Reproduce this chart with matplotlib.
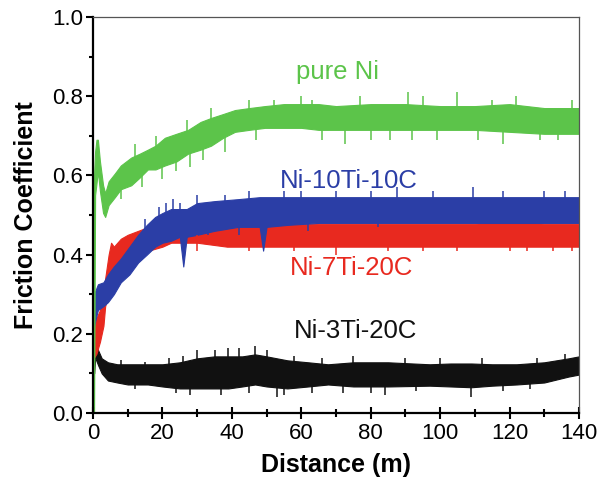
import matplotlib
matplotlib.use("Agg")
import matplotlib.pyplot as plt
from matplotlib.ticker import MultipleLocator, FormatStrFormatter

plt.rcParams["font.family"] = ["Liberation Sans", "DejaVu Sans"]

GREEN = "#5cc44a"
BLUE = "#2b3ea6"
RED = "#e8291f"
BLACK = "#111111"

# band envelopes (distance in m, friction coefficient)
green_d = [0.0, 0.3, 0.6, 1.0, 1.4, 2.0, 2.9, 3.5, 4.5, 6.3, 8, 11, 13.5, 15.8, 18, 20.7, 24,
           27.4, 31, 34, 37.5, 40.9, 45, 49.5, 55, 60, 65, 70, 80, 90, 100, 110, 120, 130, 140]
green_lo = [0.0, 0.0, 0.55, 0.58, 0.61, 0.56, 0.505, 0.495, 0.525, 0.545, 0.565, 0.575, 0.595,
            0.615, 0.615, 0.625, 0.635, 0.655, 0.665, 0.675, 0.695, 0.71, 0.715, 0.72, 0.72,
            0.72, 0.715, 0.715, 0.715, 0.715, 0.715, 0.715, 0.71, 0.705, 0.705]
green_hi = [0.0, 0.60, 0.66, 0.69, 0.69, 0.635, 0.575, 0.555, 0.585, 0.605, 0.625, 0.645, 0.655,
            0.665, 0.675, 0.695, 0.705, 0.715, 0.735, 0.745, 0.755, 0.765, 0.77, 0.775, 0.78,
            0.78, 0.78, 0.775, 0.78, 0.78, 0.775, 0.775, 0.78, 0.77, 0.77]

blue_d = [0.3, 1.4, 3, 4.3, 6, 8, 10.5, 13, 15.5, 17.9, 20, 22.5, 25, 26, 27, 30, 35, 41.8,
          48, 49, 50, 56, 65, 75, 85, 95, 105, 115, 125, 140]
blue_lo = [0.22, 0.26, 0.27, 0.28, 0.30, 0.33, 0.35, 0.38, 0.40, 0.42, 0.43, 0.435, 0.445,
           0.37, 0.445, 0.45, 0.46, 0.47, 0.47, 0.41, 0.47, 0.475, 0.48, 0.48, 0.48,
           0.48, 0.48, 0.48, 0.48, 0.48]
blue_hi = [0.30, 0.325, 0.33, 0.35, 0.37, 0.39, 0.42, 0.45, 0.475, 0.495, 0.505, 0.515, 0.515,
           0.515, 0.515, 0.53, 0.535, 0.54, 0.545, 0.545, 0.545, 0.545, 0.545, 0.545, 0.545,
           0.545, 0.545, 0.545, 0.545, 0.545]

red_d = [0.3, 1, 2, 3, 3.5, 4.5, 5.2, 6, 8, 10, 13, 16, 20, 22.5, 30, 38.6, 50, 60, 70, 80,
         90, 100, 110, 120, 130, 140]
red_lo = [0.14, 0.15, 0.18, 0.22, 0.27, 0.30, 0.33, 0.35, 0.37, 0.38, 0.40, 0.41, 0.42, 0.43,
          0.43, 0.42, 0.42, 0.42, 0.42, 0.42, 0.42, 0.42, 0.42, 0.42, 0.42, 0.42]
red_hi = [0.22, 0.24, 0.26, 0.30, 0.34, 0.40, 0.43, 0.42, 0.44, 0.45, 0.46, 0.47, 0.47, 0.47,
          0.48, 0.47, 0.478, 0.478, 0.478, 0.478, 0.478, 0.478, 0.478, 0.483, 0.478, 0.478]

black_d = [0.3, 0.6, 1.5, 2.5, 4.3, 7, 10, 15.8, 20, 25, 30, 35, 39, 43, 46.7, 50, 56, 62,
           67.7, 75, 85, 97, 103, 109, 115, 122, 130, 137, 140]
black_lo = [0.10, 0.14, 0.12, 0.10, 0.082, 0.077, 0.072, 0.072, 0.067, 0.062, 0.062, 0.062,
            0.062, 0.067, 0.072, 0.067, 0.062, 0.067, 0.072, 0.067, 0.067, 0.069, 0.067, 0.065,
            0.069, 0.072, 0.077, 0.092, 0.097]
black_hi = [0.17, 0.18, 0.158, 0.138, 0.128, 0.123, 0.123, 0.123, 0.123, 0.128, 0.138, 0.143,
            0.143, 0.143, 0.148, 0.143, 0.133, 0.128, 0.123, 0.128, 0.128, 0.123, 0.125, 0.125,
            0.123, 0.123, 0.128, 0.138, 0.143]

# single noise spikes sticking out of the bands (bottom, top)
green_spk_d = [8, 12, 14, 18, 20, 24, 27, 28, 31.7, 34, 38, 45, 47, 52, 60, 63, 66, 72.6, 77,
               80, 85.6, 90.7, 92, 95, 99, 104.9, 111, 115, 118, 122, 128.8, 134, 138]
green_spk_lo = [0.54, 0.62, 0.57, 0.64, 0.59, 0.61, 0.68, 0.62, 0.64, 0.71, 0.66, 0.74, 0.69,
                0.75, 0.75, 0.75, 0.69, 0.68, 0.75, 0.69, 0.69, 0.75, 0.69, 0.75, 0.69, 0.75,
                0.69, 0.75, 0.68, 0.75, 0.69, 0.69, 0.74]
green_spk_hi = [0.58, 0.68, 0.62, 0.70, 0.64, 0.66, 0.74, 0.68, 0.70, 0.77, 0.71, 0.79, 0.74,
                0.79, 0.80, 0.79, 0.74, 0.74, 0.80, 0.74, 0.74, 0.81, 0.74, 0.80, 0.74, 0.81,
                0.74, 0.79, 0.74, 0.80, 0.74, 0.74, 0.79]

blue_spk_d = [15, 19, 21, 23, 25, 30, 33, 38, 42, 45, 55, 60, 62, 70, 80, 82, 87.5, 98,
              109.5, 118, 130, 136]
blue_spk_lo = [0.45, 0.48, 0.47, 0.47, 0.49, 0.50, 0.45, 0.51, 0.45, 0.51, 0.51, 0.51, 0.46,
               0.51, 0.51, 0.47, 0.51, 0.51, 0.51, 0.51, 0.51, 0.51]
blue_spk_hi = [0.49, 0.52, 0.53, 0.54, 0.53, 0.55, 0.49, 0.55, 0.49, 0.56, 0.56, 0.56, 0.50,
               0.56, 0.56, 0.50, 0.57, 0.56, 0.57, 0.56, 0.56, 0.56]

red_spk_d = [30, 45, 58, 70, 85, 95, 105, 120, 125, 132.5, 138]
red_spk_lo = [0.41, 0.41, 0.41, 0.40, 0.41, 0.41, 0.41, 0.41, 0.41, 0.41, 0.41]
red_spk_hi = [0.45, 0.45, 0.45, 0.45, 0.45, 0.45, 0.45, 0.45, 0.45, 0.45, 0.45]

black_spk_d = [8, 12, 15, 22, 24, 26, 28, 30, 35, 37, 39, 42, 45, 46.7, 50, 53, 55, 58, 63,
               66, 72, 75, 80, 84, 90, 93, 100, 109, 112, 118, 126, 128, 136]
black_spk_lo = [0.10, 0.06, 0.10, 0.10, 0.05, 0.10, 0.045, 0.10, 0.10, 0.045, 0.10, 0.10,
                0.05, 0.10, 0.10, 0.04, 0.045, 0.10, 0.05, 0.10, 0.05, 0.10, 0.05, 0.045, 0.10,
                0.055, 0.10, 0.04, 0.10, 0.055, 0.06, 0.10, 0.11]
black_spk_hi = [0.135, 0.10, 0.13, 0.14, 0.09, 0.145, 0.09, 0.16, 0.16, 0.09, 0.165, 0.165,
                0.09, 0.17, 0.16, 0.09, 0.09, 0.145, 0.09, 0.14, 0.09, 0.145, 0.10, 0.09, 0.14,
                0.09, 0.14, 0.09, 0.14, 0.09, 0.09, 0.14, 0.15]

labels = ["pure Ni", "Ni-10Ti-10C", "Ni-7Ti-20C", "Ni-3Ti-20C"]
label_x = [70.3, 73.8, 74.6, 75.5]
label_y = [0.861, 0.585, 0.366, 0.207]
label_colors = [GREEN, BLUE, RED, BLACK]

fig = plt.figure(figsize=(6.06, 4.84), dpi=100)
ax = fig.add_axes([0.1535, 0.1467, 0.8019, 0.8182])

series = [
    (black_d, black_lo, black_hi, black_spk_d, black_spk_lo, black_spk_hi, BLACK),
    (red_d, red_lo, red_hi, red_spk_d, red_spk_lo, red_spk_hi, RED),
    (blue_d, blue_lo, blue_hi, blue_spk_d, blue_spk_lo, blue_spk_hi, BLUE),
    (green_d, green_lo, green_hi, green_spk_d, green_spk_lo, green_spk_hi, GREEN),
]
for d, lo, hi, sd, slo, shi, c in series:
    ax.fill_between(d, lo, hi, color=c, linewidth=0.8, edgecolor=c)
    ax.vlines(sd, slo, shi, color=c, linewidth=1.1)

for txt, x, y, c in zip(labels, label_x, label_y, label_colors):
    ax.text(x, y, txt, color=c, fontsize=18.5, ha="center", va="center")

ax.set_xlim(0, 140)
ax.set_ylim(0, 1.0)
ax.xaxis.set_major_locator(MultipleLocator(20))
ax.xaxis.set_minor_locator(MultipleLocator(10))
ax.yaxis.set_major_locator(MultipleLocator(0.2))
ax.yaxis.set_minor_locator(MultipleLocator(0.1))
ax.yaxis.set_major_formatter(FormatStrFormatter("%.1f"))

for side in ["left", "bottom"]:
    ax.spines[side].set_linewidth(1.6)
    ax.spines[side].set_color("black")
for side in ["top", "right"]:
    ax.spines[side].set_linewidth(0.9)
    ax.spines[side].set_color("#555555")

ax.tick_params(axis="x", which="major", direction="inout", length=9, width=1.5,
               labelsize=16, pad=3, top=False)
ax.tick_params(axis="x", which="minor", direction="inout", length=6, width=1.5, top=False)
ax.tick_params(axis="y", which="major", direction="out", length=5, width=1.5,
               labelsize=16, pad=2, right=False)
ax.tick_params(axis="y", which="minor", direction="out", length=3, width=1.5, right=False)

ax.set_xlabel("Distance (m)", fontsize=18, fontweight="bold", labelpad=6)
ax.set_ylabel("Friction Coefficient", fontsize=18, fontweight="bold", labelpad=10)

fig.savefig("out.png", dpi=100)
